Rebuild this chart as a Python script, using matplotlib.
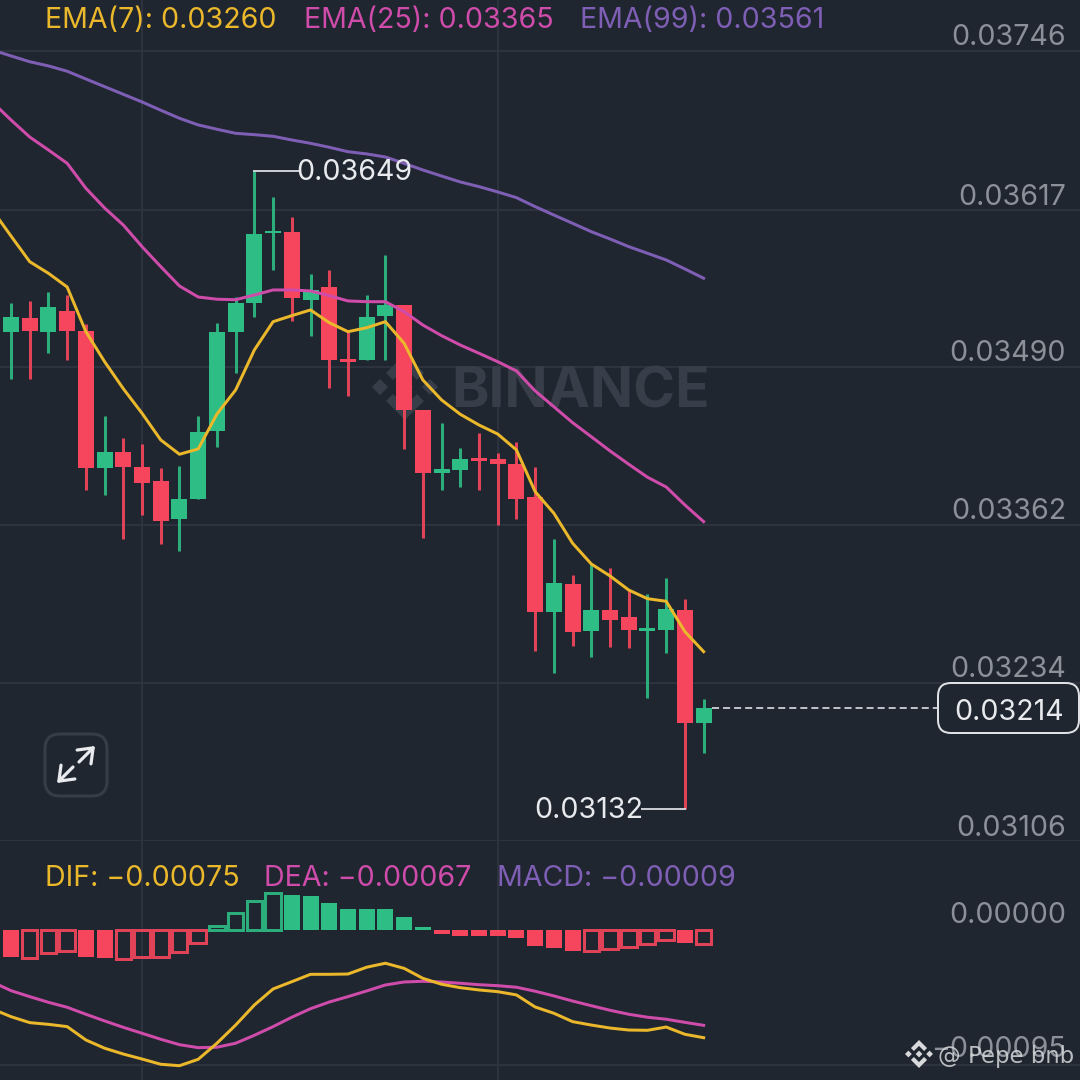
import numpy as np
import matplotlib
matplotlib.use('Agg')
from matplotlib import pyplot as plt
from matplotlib.patches import FancyBboxPatch, Polygon

plt.rcParams['font.family'] = ['Inter', 'DejaVu Sans']

# --------------- data, first candle is mostly off screen ---------------

candle_index = list(range(-1, 38))

opens = [0.036156, 0.035186, 0.035295, 0.035186, 0.035354, 0.035194, 0.034084, 0.034214, 0.034092, 0.033974,
         0.033666, 0.033833, 0.034384, 0.035186, 0.035416, 0.035983, 0.035996, 0.035445, 0.035546, 0.034965,
         0.034957, 0.035316, 0.035405, 0.034552, 0.034044, 0.034063, 0.034163, 0.034155, 0.034114, 0.033844,
         0.032915, 0.033142, 0.032764, 0.032931, 0.032872, 0.032764, 0.032772, 0.032931, 0.032014]
closes = [0.035321, 0.035303, 0.035194, 0.035384, 0.035194, 0.034084, 0.034214, 0.034092, 0.033963, 0.033655,
          0.033833, 0.034373, 0.035186, 0.035416, 0.035975, 0.035999, 0.035457, 0.035524, 0.034954, 0.034943,
          0.035303, 0.035402, 0.034552, 0.034044, 0.034074, 0.034155, 0.034141, 0.034114, 0.033833, 0.032915,
          0.033153, 0.032751, 0.032931, 0.032850, 0.032772, 0.032786, 0.032940, 0.032014, 0.032140]
highs = [0.036300, 0.035416, 0.035432, 0.035505, 0.035483, 0.035246, 0.034503, 0.034322, 0.034274, 0.034084,
         0.034100, 0.034503, 0.035257, 0.035467, 0.036490, 0.036275, 0.036118, 0.035656, 0.035686, 0.035186,
         0.035483, 0.035807, 0.035405, 0.034552, 0.034444, 0.034241, 0.034363, 0.034201, 0.034295, 0.034092,
         0.033504, 0.033215, 0.033304, 0.033269, 0.033093, 0.033061, 0.033193, 0.033018, 0.032208]
lows = [0.035200, 0.034805, 0.034805, 0.035016, 0.034954, 0.033904, 0.033863, 0.033504, 0.033701, 0.033464,
        0.033412, 0.033833, 0.034254, 0.034854, 0.035308, 0.035686, 0.035273, 0.035154, 0.034732, 0.034665,
        0.034957, 0.034957, 0.034233, 0.033512, 0.033904, 0.033930, 0.033904, 0.033620, 0.033671, 0.032602,
        0.032423, 0.032640, 0.032553, 0.032629, 0.032621, 0.032221, 0.032581, 0.031320, 0.031771]

ema7 = [0.036172, 0.035961, 0.035753, 0.035659, 0.035548, 0.035186, 0.034943, 0.034724, 0.034525, 0.034309,
        0.034193, 0.034236, 0.034519, 0.034714, 0.035038, 0.035267, 0.035316, 0.035362, 0.035259, 0.035186,
        0.035218, 0.035267, 0.035092, 0.034795, 0.034633, 0.034517, 0.034430, 0.034357, 0.034228, 0.033890,
        0.033715, 0.033472, 0.033304, 0.033207, 0.033093, 0.033023, 0.033002, 0.032756, 0.032594]
ema25 = [0.037047, 0.036901, 0.036763, 0.036658, 0.036550, 0.036348, 0.036188, 0.036050, 0.035875, 0.035713,
         0.035556, 0.035467, 0.035449, 0.035445, 0.035483, 0.035524, 0.035524, 0.035516, 0.035478, 0.035435,
         0.035429, 0.035429, 0.035348, 0.035240, 0.035154, 0.035078, 0.035011, 0.034943, 0.034868, 0.034706,
         0.034578, 0.034449, 0.034335, 0.034220, 0.034112, 0.034007, 0.033928, 0.033782, 0.033647]
ema99 = [0.037468, 0.037420, 0.037373, 0.037339, 0.037296, 0.037233, 0.037171, 0.037109, 0.037047, 0.036980,
         0.036915, 0.036861, 0.036826, 0.036793, 0.036782, 0.036769, 0.036739, 0.036712, 0.036680, 0.036644,
         0.036626, 0.036601, 0.036550, 0.036496, 0.036447, 0.036399, 0.036361, 0.036318, 0.036272, 0.036199,
         0.036131, 0.036064, 0.035996, 0.035937, 0.035875, 0.035821, 0.035767, 0.035694, 0.035619]

macd_hist = [-0.000180, -0.000191, -0.000196, -0.000165, -0.000149, -0.000191, -0.000198, -0.000201, -0.000189, -0.000189,
             -0.000156, -0.000090, 0.000027, 0.000116, 0.000205, 0.000262, 0.000248, 0.000238, 0.000189, 0.000151,
             0.000149, 0.000149, 0.000088, 0.000020, -0.000025, -0.000039, -0.000044, -0.000044, -0.000058, -0.000116,
             -0.000125, -0.000151, -0.000149, -0.000137, -0.000123, -0.000102, -0.000072, -0.000090, -0.000097]
hollow_bars = [1, 2, 3, 6, 7, 8, 9, 10, 11, 12, 13, 14, 31, 32, 33, 34, 35, 37]

dif = [-0.000556, -0.000610, -0.000652, -0.000664, -0.000680, -0.000774, -0.000832, -0.000873, -0.000908, -0.000945,
       -0.000955, -0.000910, -0.000797, -0.000669, -0.000528, -0.000415, -0.000364, -0.000312, -0.000312, -0.000310,
       -0.000262, -0.000234, -0.000270, -0.000340, -0.000382, -0.000406, -0.000422, -0.000434, -0.000457, -0.000542,
       -0.000586, -0.000645, -0.000669, -0.000690, -0.000704, -0.000706, -0.000683, -0.000734, -0.000758]
dea = [-0.000366, -0.000427, -0.000469, -0.000509, -0.000544, -0.000593, -0.000640, -0.000685, -0.000727, -0.000769,
       -0.000807, -0.000828, -0.000825, -0.000797, -0.000741, -0.000680, -0.000614, -0.000554, -0.000507, -0.000469,
       -0.000429, -0.000387, -0.000366, -0.000361, -0.000366, -0.000375, -0.000385, -0.000392, -0.000403, -0.000431,
       -0.000464, -0.000500, -0.000533, -0.000565, -0.000593, -0.000614, -0.000628, -0.000650, -0.000671]

price_ticks = [0.03746, 0.03617, 0.03490, 0.03362, 0.03234, 0.03106]
macd_grid_tick = -0.00095
vertical_grid = [7, 26]
last_price = 0.03214
max_price = 0.03649
min_price = 0.03132

# --------------- colours ---------------

bg = '#1f2630'
grid_color = '#2d333e'
green = '#2ebd85'
red = '#f6465d'
yellow = '#ebb82c'
pink = '#cf4cab'
purple = '#7f5fb5'
axis_text = '#8b9099'
white_text = '#e8eaee'
font_size = 20.6

px = 1 / 18.72  # one picture pixel in candle units
pt = 0.72  # one picture pixel in points

fig = plt.figure(figsize=(10.8, 10.8), dpi=100, facecolor=bg)
ax = fig.add_axes([0, 239 / 1080, 1, 841 / 1080], facecolor=bg)
ax2 = fig.add_axes([0, 0, 1, 239 / 1080], facecolor=bg)
over = fig.add_axes([0, 0, 1, 1], zorder=5)  # overlay in picture pixels for the decorations
over.set_xlim(0, 1080)
over.set_ylim(1080, 0)
over.axis('off')

x = np.array(candle_index)
x_range = (-11 * px, 1069 * px)


def style_panel(panel, yticks):
    panel.set_xlim(x_range)
    panel.set_xticks(vertical_grid)
    panel.set_yticks(yticks)
    panel.tick_params(length=0, labelbottom=False, labelleft=False)
    panel.grid(True, color=grid_color, linewidth=2 * pt)
    panel.set_axisbelow(True)
    for side in panel.spines:
        panel.spines[side].set_visible(False)
    for line in panel.get_ygridlines():
        line.set_clip_on(False)


def axis_label(panel, value, text, lift):
    panel.annotate(text, xy=(1, value), xycoords=panel.get_yaxis_transform(),
                   xytext=(-14 * pt, lift * pt), textcoords='offset points',
                   ha='right', va='center', color=axis_text, fontsize=font_size, zorder=6)


def binance_logo(panel, cx, cy, size, color, z):
    s = size / 33.0  # logo is 66 px wide at size 33
    d = 8 * s
    for dx, dy in [(0, 0), (-25 * s, 0), (25 * s, 0)]:
        panel.add_patch(Polygon([(cx + dx - d, cy + dy), (cx + dx, cy + dy - d),
                                 (cx + dx + d, cy + dy), (cx + dx, cy + dy + d)],
                                color=color, lw=0, zorder=z, transform=over.transData))
    for sign in [-1, 1]:
        panel.add_patch(Polygon([(cx, cy + sign * 33 * s), (cx + 19 * s, cy + sign * 14 * s),
                                 (cx + 12 * s, cy + sign * 7 * s), (cx, cy + sign * 19 * s),
                                 (cx - 12 * s, cy + sign * 7 * s), (cx - 19 * s, cy + sign * 14 * s)],
                                color=color, lw=0, zorder=z, transform=over.transData))


# --------------- candles and moving averages ---------------

ax.set_ylim(0.03106, 0.037873)
style_panel(ax, price_ticks)

candle_colors = [green if c >= o else red for o, c in zip(opens, closes)]
ax.vlines(x, lows, highs, colors=candle_colors, linewidth=3 * pt, zorder=2, alpha=0.9)
ax.bar(x, np.array(closes) - np.array(opens), bottom=opens, width=16 * px, color=candle_colors, zorder=2.1)

ax.plot(x, ema99, color=purple, linewidth=3 * pt, zorder=3)
ax.plot(x, ema25, color=pink, linewidth=3 * pt, zorder=3)
ax.plot(x, ema7, color=yellow, linewidth=3 * pt, zorder=3)

for tick in price_ticks:
    axis_label(ax, tick, '%.5f' % tick, 13)

# high, low and last price markers
ax.plot([13, 13 + 44 * px], [max_price, max_price], color='#c8ccd2', linewidth=2 * pt, zorder=3)
ax.plot([36, 36 - 43 * px], [min_price, min_price], color='#c8ccd2', linewidth=2 * pt, zorder=3)
ax.annotate('%.5f' % max_price, xy=(13 + 42 * px, max_price), xytext=(0, -2 * pt), textcoords='offset points',
            ha='left', va='center', color=white_text, fontsize=font_size, zorder=6)
ax.annotate('%.5f' % min_price, xy=(36 - 42 * px, min_price), xytext=(0, -2 * pt), textcoords='offset points',
            ha='right', va='center', color=white_text, fontsize=font_size, zorder=6)
ax.plot([37 + 8 * px, 37 + 235 * px], [last_price, last_price], color='#e4e6ea',
        linewidth=1.6 * pt, linestyle=(0, (4.4, 2.5)), zorder=3)

# --------------- MACD panel ---------------

ax2.set_ylim(-0.0010556, 0.000626)
style_panel(ax2, [macd_grid_tick])

hist = np.array(macd_hist)
hollow = np.isin(x, hollow_bars)
hist_colors = np.where(hist >= 0, green, red)
ax2.bar(x[~hollow], hist[~hollow], width=16 * px, color=hist_colors[~hollow], zorder=2)
ax2.bar(x[hollow], hist[hollow], width=15.5 * px, facecolor='none', edgecolor=hist_colors[hollow],
        linewidth=3 * pt, zorder=2, alpha=0.9)

ax2.plot(x, dea, color=pink, linewidth=3 * pt, zorder=3)
ax2.plot(x, dif, color=yellow, linewidth=3 * pt, zorder=3)

axis_label(ax2, 0, '0.00000', 14)
axis_label(ax2, macd_grid_tick, '\u22120.00095', 15)

# --------------- text, watermark and decorations ---------------

for text_x, text_y, text, color in [
    (45, 21, 'EMA(7): 0.03260', yellow),
    (304, 21, 'EMA(25): 0.03365', pink),
    (580, 21, 'EMA(99): 0.03561', purple),
    (45, 878, 'DIF: \u22120.00075', yellow),
    (264, 878, 'DEA: \u22120.00067', pink),
    (497, 878, 'MACD: \u22120.00009', purple),
]:
    over.text(text_x, text_y, text, color=color, fontsize=font_size, ha='left', va='center')

ax.text(451, 393, 'BINANCE', transform=over.transData, color='#373e49', fontsize=40.8, fontweight='bold',
        ha='left', va='center', zorder=1)
binance_logo(ax, 405, 387, 33, '#373e49', 1)

over.add_patch(FancyBboxPatch((938, 683), 141, 50, boxstyle='round,pad=0,rounding_size=13',
                              facecolor=bg, edgecolor='#dfe1e5', linewidth=2 * pt))
over.text(1009, 712, '%.5f' % last_price, color=white_text, fontsize=font_size, ha='center', va='center')

over.add_patch(FancyBboxPatch((45, 734), 62, 62, boxstyle='round,pad=0,rounding_size=15',
                              facecolor=bg, edgecolor='#373d48', linewidth=3 * pt))
for tip, tail in [((95, 746), (79, 762)), ((57, 783), (73, 767))]:
    over.annotate('', xy=tip, xytext=tail,
                  arrowprops=dict(arrowstyle='->,head_length=0.42,head_width=0.32', color='#e8eaee',
                                  linewidth=3.2 * pt, shrinkA=0, shrinkB=0, mutation_scale=22))

binance_logo(over, 919, 1054, 14, '#d8d9da', 7)
over.text(938, 1056, '@ Pepe bnb', color='#d6d8da', fontsize=16.4, ha='left', va='center', zorder=7,
          family=['DejaVu Sans'], alpha=0.85)

plt.savefig('out.png', dpi=100, facecolor=bg)
